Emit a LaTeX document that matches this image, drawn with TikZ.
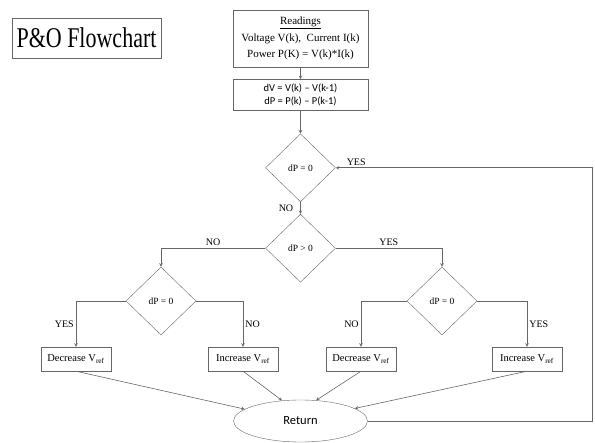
\documentclass[tikz,border=0pt]{standalone}
\usepackage{fontspec}
\setmainfont{Liberation Serif}
\newfontfamily\calibri{Carlito}
\usetikzlibrary{shapes.geometric, arrows, positioning}
\tikzstyle{title} = [rectangle, draw=black!60, minimum width=149pt, minimum height=40pt, font=\fontsize{22}{26}\selectfont]
\tikzstyle{process} = [rectangle, draw=black!60, minimum width=135pt, text centered, align=center, inner sep=0pt]
\tikzstyle{decision} = [diamond, draw=black!60, minimum width=70pt, minimum height=68pt, inner sep=0pt, font=\fontsize{9.5}{11}\selectfont]
\tikzstyle{action} = [rectangle, draw=black!60, minimum width=70pt, minimum height=24pt, inner sep=0pt, font=\fontsize{10.5}{12}\selectfont]
\tikzstyle{terminal} = [ellipse, draw=black!60, minimum width=134pt, minimum height=42pt, font=\calibri\fontsize{12.5}{14}\selectfont]
\tikzstyle{arrow} = [draw=black!60, line width=0.6pt, ->, >=stealth]
\tikzstyle{lbl} = [font=\fontsize{10}{11}\selectfont, inner sep=2pt]

\begin{document}
\begin{tikzpicture}[x=1pt, y=-1pt]
        \useasboundingbox (0,0) rectangle (595,443);

        % Title
        \node (title) [title] at (86.5,38) {\scalebox{1}[1.3]{P\&O Flowchart}};

        % Main column
        \node (readings) [process, minimum height=57pt, font=\fontsize{11}{16.5}\selectfont] at (300.5,38.5)
            {\underline{Readings}\\ Voltage V(k),~~Current I(k)\\ Power P(K) = V(k)*I(k)};
        \node (diff) [process, minimum height=31pt, below=12pt of readings, font=\calibri\fontsize{10.5}{13.5}\selectfont]
            {dV = V(k) – V(k-1)\\ dP = P(k) – P(k-1)};
        \node (d1) [decision, below=23pt of diff] {dP = 0};
        \node (d2) [decision, below=12pt of d1] {dP > 0};

        % Side decisions
        \node (dl) [decision] at (161,301) {dP = 0};
        \node (dr) [decision] at (442,301) {dP = 0};

        % Actions
        \node (decL) [action] at (76,359) {Decrease V\textsubscript{ref}};
        \node (incL) [action] at (243,359) {Increase V\textsubscript{ref}};
        \node (decR) [action] at (361,359) {Decrease V\textsubscript{ref}};
        \node (incR) [action] at (527,359) {Increase V\textsubscript{ref}};

        % Return
        \node (ret) [terminal] at (300.5,421) {Return};
        \coordinate (loop) at (592,421);

        % Connections main column
        \draw [arrow] (readings) -- (diff);
        \draw [arrow] (diff) -- (d1);
        \draw [arrow] (d1) -- node[lbl, left=5pt] {NO} (d2);
        \draw [arrow] (d2.west) -| node[lbl, pos=0.25, above] {NO} (dl.north);
        \draw [arrow] (d2.east) -| node[lbl, pos=0.25, above] {YES} (dr.north);

        % Connections side decisions
        \draw [arrow] (dl.west) -| node[lbl, pos=0.75, left] {YES} (decL.north);
        \draw [arrow] (dl.east) -| node[lbl, pos=0.75, right] {NO} (incL.north);
        \draw [arrow] (dr.west) -| node[lbl, pos=0.75, left] {NO} (decR.north);
        \draw [arrow] (dr.east) -| node[lbl, pos=0.75, right] {YES} (incR.north);

        % Connections to Return
        \draw [arrow] (decL.south) -- (ret.168);
        \draw [arrow] (incL.south) -- (ret.132);
        \draw [arrow] (decR.south) -- (ret.53);
        \draw [arrow] (incR.south) -- (ret.13);

        % Loop back
        \draw [arrow] (ret.east) -- (loop) |- node[lbl, pos=0.96, above] {YES} (d1.east);
    \end{tikzpicture}
\end{document}
